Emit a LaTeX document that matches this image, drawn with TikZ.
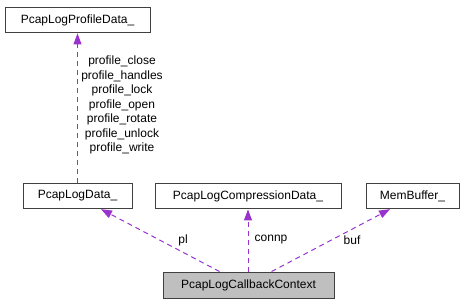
\documentclass[tikz,border=0pt]{standalone}
\usepackage{fontspec}
\setmainfont{Liberation Sans}
\usetikzlibrary{arrows.meta}
\definecolor{edgepurple}{HTML}{9A32CD}
\definecolor{focusgray}{HTML}{BFBFBF}
\begin{document}
\begin{tikzpicture}[x=1pt,y=1pt,
  cls/.style={draw=black!75, line width=0.9pt, fill=white, inner sep=0pt,
    minimum height=25pt, font=\fontsize{12}{14}\selectfont},
  usage/.style={draw=edgepurple, line width=1pt, dash pattern=on 5pt off 4pt,
    -{Triangle[length=11pt,width=8pt]}, shorten >=0.5pt},
  lbl/.style={font=\fontsize{12}{14.5}\selectfont, inner sep=0pt, align=center}]
\useasboundingbox (0,0) rectangle (465,304);

% classes
\node[cls, minimum width=145pt] (profile) at (77.5,284) {PcapLogProfileData\_};
\node[cls, minimum width=109pt] (data) at (77.5,108) {PcapLogData\_};
\node[cls, minimum width=186pt] (comp) at (248,108) {PcapLogCompressionData\_};
\node[cls, minimum width=93pt] (mem) at (412.5,108) {MemBuffer\_};
\node[cls, minimum width=171pt, minimum height=26pt, fill=focusgray] (ctx) at (248.5,19) {PcapLogCallbackContext};

% member relations
\draw[usage] (data.north) -- (profile.south);
\draw[usage] ([xshift=57pt]ctx.north west) -- ([xshift=23pt]data.south);
\draw[usage] ([xshift=-0.5pt]ctx.north) -- (comp.south);
\draw[usage] ([xshift=109pt]ctx.north west) -- ([xshift=-22pt]mem.south);

% member names
\node[lbl] (plist) at (122,199) {profile\_close\\profile\_handles\\profile\_lock\\profile\_open\\profile\_rotate\\profile\_unlock\\profile\_write};
\node[lbl] (pl) at (183,64) {pl};
\node[lbl] (connp) at (271,64) {connp};
\node[lbl] (buf) at (352,64) {buf};
\end{tikzpicture}
\end{document}
